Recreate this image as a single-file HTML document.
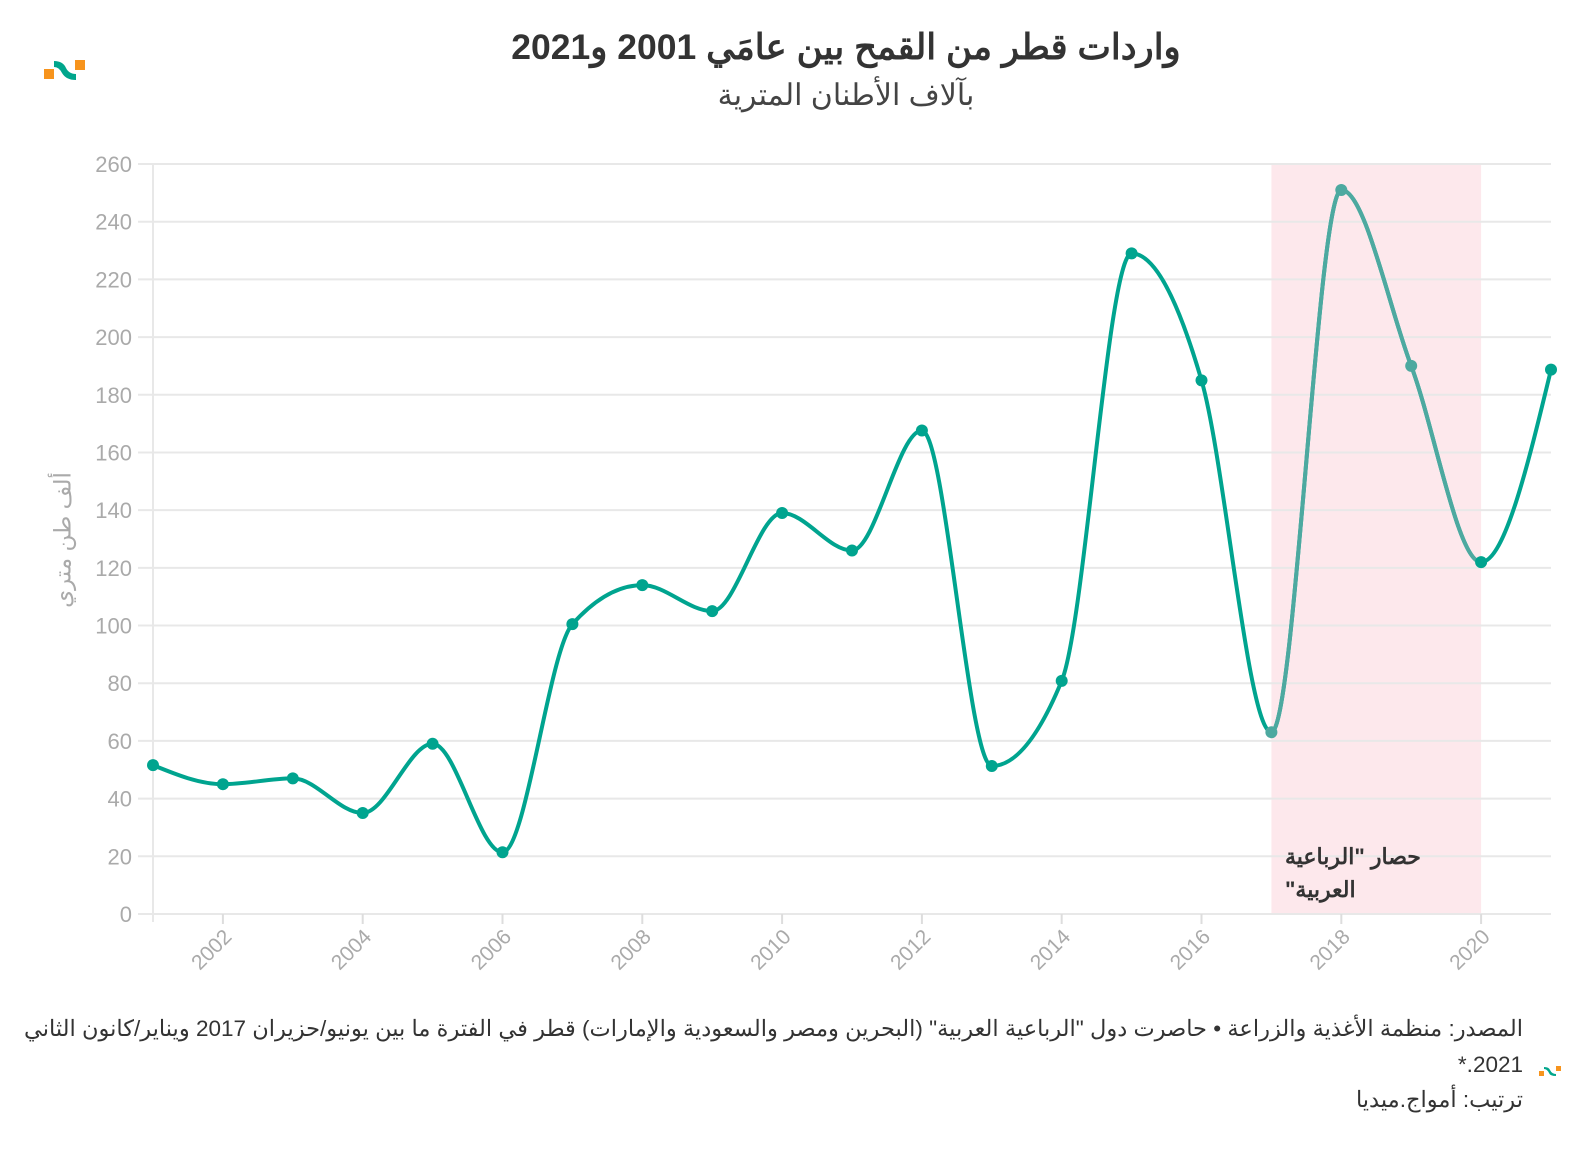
<!DOCTYPE html>
<html><head><meta charset="utf-8">
<style>
body{margin:0;width:1592px;height:1150px;background:#fff;font-family:"Liberation Sans","Noto Sans CJK SC",sans-serif;position:relative;overflow:hidden}
.t{position:absolute;white-space:nowrap}
</style></head><body>
<svg width="52" height="32" style="position:absolute;left:40px;top:56px">
<rect x="4" y="13" width="10" height="10" fill="#f7941d"/>
<path d="M14 5 Q23 5 26 12 Q29 18 36 18 L36 24 Q26 24 22 17 Q19 11 14 11Z" fill="#00a68c"/>
<rect x="35" y="4" width="10" height="10" fill="#f7941d"/>
</svg>
<div class="t" style="left:0;width:1692px;text-align:center;top:27px;font-size:35.5px;font-weight:bold;color:#333">واردات قطر من القمح بين عامَي 2001 و2021</div>
<div class="t" style="left:0;width:1692px;text-align:center;top:78px;font-size:30px;color:#444">بآلاف الأطنان المترية</div>
<div class="t" style="left:63px;top:540px;font-size:23px;color:#aaa;transform:translate(-50%,-50%) rotate(-90deg)">ألف طن متري</div>
<svg id="chart" width="1592" height="1000" style="position:absolute;left:0;top:0"></svg>
<div class="t" dir="rtl" style="right:69px;top:1016px;font-size:22.5px;color:#333">المصدر: منظمة الأغذية والزراعة • حاصرت دول "الرباعية العربية" (البحرين ومصر والسعودية والإمارات) قطر في الفترة ما بين يونيو/حزيران 2017 ويناير/كانون الثاني</div>
<div class="t" dir="rtl" style="right:69px;top:1052px;font-size:22.5px;color:#333">2021.*</div>
<div class="t" dir="rtl" style="right:69px;top:1087px;font-size:22.5px;color:#333">ترتيب: أمواج.ميديا</div>
<svg width="26" height="16" style="position:absolute;left:1538px;top:1064px">
<rect x="1" y="7" width="5" height="5" fill="#f7941d"/><path d="M6 3 Q11 3 12 6 Q14 10 18 10 L18 12 Q12 12 11 9 Q9 5 6 5Z" fill="#00a68c"/><rect x="18" y="2" width="5" height="5" fill="#f7941d"/></svg>
<script>
const years=[2001,2002,2003,2004,2005,2006,2007,2008,2009,2010,2011,2012,2013,2014,2015,2016,2017,2018,2019,2020,2021];
const imports=[51.6,45,47,35,59,21.4,100.5,114,105,139,126,167.6,51.3,80.8,229,185,63,251,190,122,188.7];
const yTicks=[0,20,40,60,80,100,120,140,160,180,200,220,240,260];
const xTickYears=[2002,2004,2006,2008,2010,2012,2014,2016,2018,2020];
const blockadeStart=2017, blockadeEnd=2020;
const svg=document.getElementById('chart');const NS='http://www.w3.org/2000/svg';
const x0=153,x1=1551,y0=914,y1=164;
const X=v=>x0+(v-2001)/(2021-2001)*(x1-x0);
const Y=v=>y0-(v/260)*(y0-y1);
function mk(t,a,p){const e=document.createElementNS(NS,t);for(const k in a)e.setAttribute(k,a[k]);(p||svg).appendChild(e);return e;}
const band=mk('rect',{x:X(blockadeStart),y:y1,width:X(blockadeEnd)-X(blockadeStart),height:y0-y1,fill:'#fde8ec'});


yTicks.forEach(v=>{
 const g=mk('line',{x1:138,x2:x1,y1:Y(v),y2:Y(v),stroke:'#e8e8e8','stroke-width':2});
 
 
 const t=mk('text',{x:132,y:Y(v)+8,'text-anchor':'end','font-size':22,fill:'#aaa'});t.textContent=v;
 
 
});
mk('line',{x1:x0,x2:x0,y1:y1,y2:y0+8,stroke:'#e8e8e8','stroke-width':2});
xTickYears.forEach(v=>{
 mk('line',{x1:X(v),x2:X(v),y1:y0,y2:y0+10,stroke:'#ddd','stroke-width':2});
 const t=mk('text',{x:X(v)+10,y:y0+24,'text-anchor':'end','font-size':21,fill:'#aaa',transform:`rotate(-45 ${X(v)+10} ${y0+24})`});t.textContent=v;
 
 
});
const pts=years.map((yr,i)=>[X(yr),Y(imports[i])]);
const n=pts.length,dx=[],s=[],m=[];
for(let i=0;i<n-1;i++){dx[i]=pts[i+1][0]-pts[i][0];s[i]=(pts[i+1][1]-pts[i][1])/dx[i];}
m[0]=s[0];m[n-1]=s[n-2];
for(let i=1;i<n-1;i++){if(s[i-1]*s[i]<=0)m[i]=0;else{const h0=dx[i-1],h1=dx[i];const p=(s[i-1]*h1+s[i]*h0)/(h0+h1);m[i]=(Math.sign(s[i-1])+Math.sign(s[i]))*Math.min(Math.abs(s[i-1]),Math.abs(s[i]),0.5*Math.abs(p));}}
m[0]=(3*s[0]-m[1])/2;m[n-1]=(3*s[n-2]-m[n-2])/2;
let d=`M${pts[0][0]},${pts[0][1]}`;
for(let i=0;i<n-1;i++){const h=dx[i]/3;
 d+=` C${pts[i][0]+h},${pts[i][1]+m[i]*h} ${pts[i+1][0]-h},${pts[i+1][1]-m[i+1]*h} ${pts[i+1][0]},${pts[i+1][1]}`;}
const defs=mk('defs',{});const cp=mk('clipPath',{id:'bc'},defs);mk('rect',{x:X(blockadeStart),y:0,width:X(blockadeEnd)-X(blockadeStart),height:1000},cp);
const line=mk('path',{d:d,fill:'none',stroke:'#00a48f','stroke-width':4});


const line2=mk('path',{d:d,fill:'none',stroke:'#4da9a0','stroke-width':4,'clip-path':'url(#bc)'});


pts.forEach((p,i)=>{const inB=years[i]>=blockadeStart&&years[i]<blockadeEnd;
 const c=mk('circle',{cx:p[0],cy:p[1],r:6,fill:inB?'#4da9a0':'#00a48f'});
 
 });
const a=mk('text',{x:1285,y:864,'text-anchor':'end','font-size':22,'font-weight':'bold',fill:'#333',direction:'rtl'});a.textContent='حصار "الرباعية';


const a2=mk('text',{x:1285,y:897,'text-anchor':'end','font-size':22,'font-weight':'bold',fill:'#333',direction:'rtl'});a2.textContent='العربية"';


</script>
</body></html>
